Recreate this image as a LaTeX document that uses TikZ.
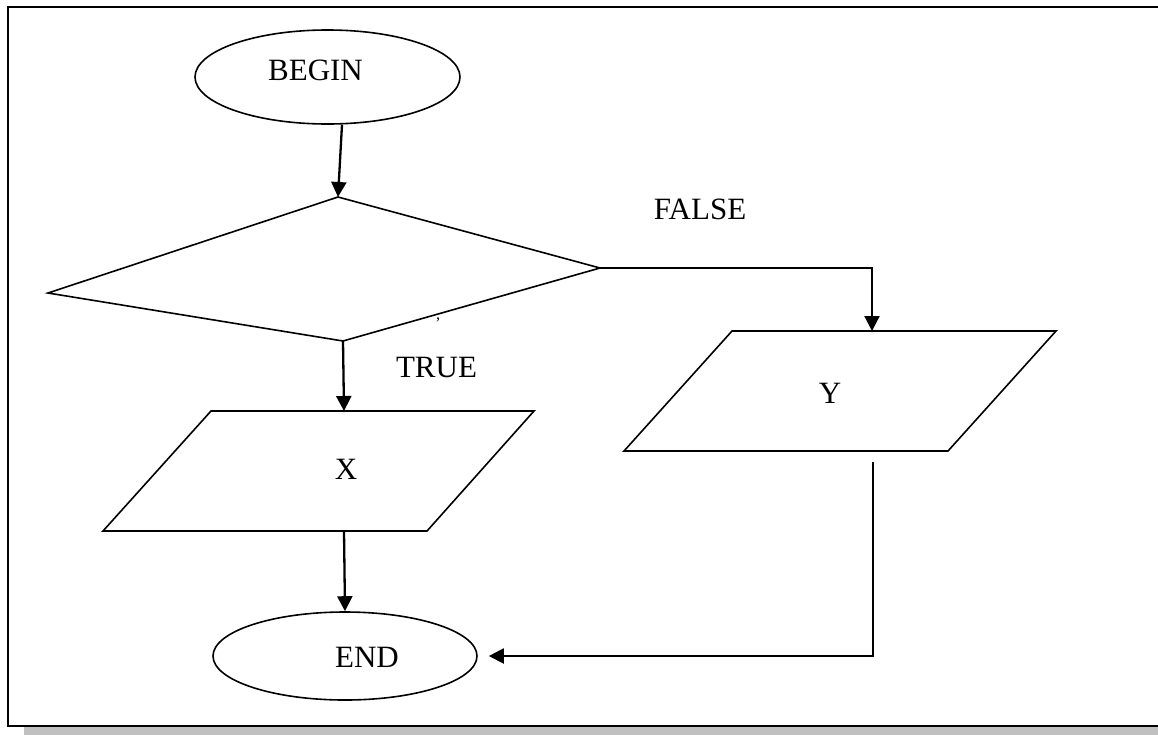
\documentclass[tikz,border=0pt]{standalone}
\usepackage{fontspec}
\setmainfont{Liberation Serif}
\usetikzlibrary{arrows.meta,shapes.geometric}
\definecolor{shadowgray}{RGB}{192,192,192}
\begin{document}
\begin{tikzpicture}[x=1pt,y=-1pt,
  shapeline/.style={line width=1.6pt},
  term/.style={ellipse,draw,line width=1.6pt,inner sep=0pt},
  lbl/.style={font=\fontsize{31}{31}\selectfont,anchor=base,inner sep=0pt},
  arr/.style={line width=2.3pt,-{Triangle[length=15pt,width=15pt]}},
  conn/.style={line width=1.8pt}]
\useasboundingbox (0,0) rectangle (1158,734);
\clip (0,0) rectangle (1158,734);
% frame with shadow
\fill[shadowgray] (24,22) rectangle (1190,740);
\draw[line width=2.6pt,fill=white] (8,7) rectangle (1175,726);
% terminals
\node[term,minimum width=265pt,minimum height=94pt] (begin) at (327.5,77) {};
\node[lbl] (begintxt) at (315.5,80) {BEGIN};
\node[term,minimum width=264pt,minimum height=88pt] (end) at (345,656) {};
\node[lbl] (endtxt) at (367,667) {END};
% decision
\coordinate (dtop) at (338,197);
\coordinate (dright) at (600,268);
\coordinate (dbot) at (343,341);
\coordinate (dleft) at (48,293);
\draw[shapeline,line join=miter] (dtop) -- (dright) -- (dbot) -- (dleft) -- cycle;
\node[font=\fontsize{16}{16}\selectfont,inner sep=0pt] (tick) at (438,323) {'};
% X parallelogram
\coordinate (xtl) at (211,411);
\coordinate (xtr) at (534,411);
\coordinate (xbr) at (427,531);
\coordinate (xbl) at (103,531);
\draw[shapeline] (xtl) -- (xtr) -- (xbr) -- (xbl) -- cycle;
\node[lbl] (xtxt) at (346,479) {X};
\coordinate (xtop) at (344,411);
\coordinate (xbot) at (344,531);
% Y parallelogram
\coordinate (ytl) at (732,331);
\coordinate (ytr) at (1056,331);
\coordinate (ybr) at (948,451);
\coordinate (ybl) at (624,451);
\draw[shapeline] (ytl) -- (ytr) -- (ybr) -- (ybl) -- cycle;
\node[lbl] (ytxt) at (830,403) {Y};
\coordinate (ytop) at (872,331);
\coordinate (yout) at (873,462);
% labels
\node[lbl] (falsetxt) at (700,219) {FALSE};
\node[lbl] (truetxt) at (436.5,377) {TRUE};
% connectors
\draw[arr] (begin.south) ++(14.5,0) -- (dtop);
\draw[arr] (dbot) -- (xtop);
\draw[arr] (xbot) -- (end.north);
\draw[arr] (dright) -| (ytop);
\draw[arr,line width=2pt,shorten >=11pt] (yout) |- (end.east);
\end{tikzpicture}
\end{document}
